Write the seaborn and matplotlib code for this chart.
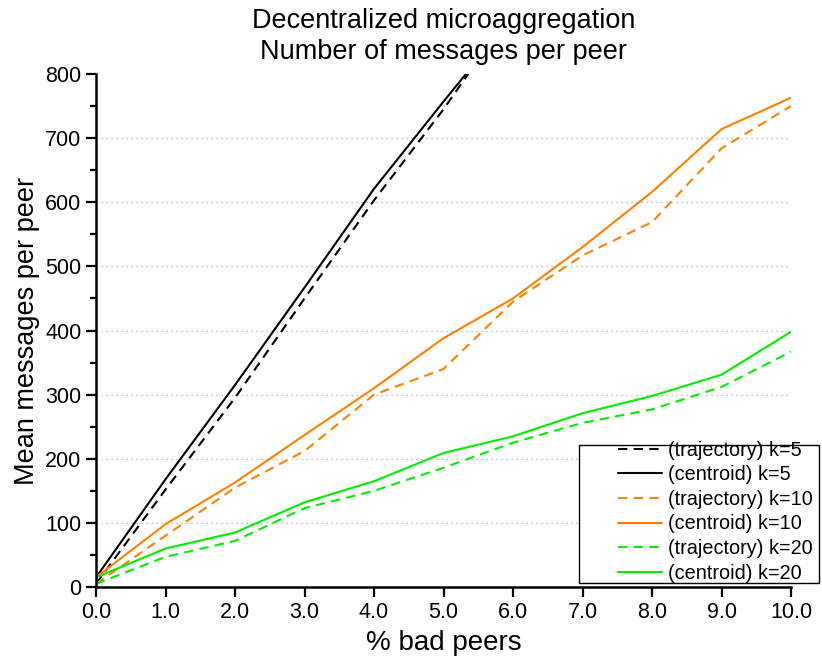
import numpy as np
import pandas as pd
import matplotlib
matplotlib.use("Agg")
import matplotlib.pyplot as plt
from matplotlib.patches import Rectangle
from matplotlib.ticker import MultipleLocator
import seaborn as sns

bad_peers = [0, 1, 2, 3, 4, 5, 6, 7, 8, 9, 10]
traj_k5 = [5, 152, 295, 450, 603, 745, 900, 1050, 1200, 1350, 1500]
cent_k5 = [15, 168, 315, 467, 621, 757, 890, 1040, 1190, 1340, 1490]
traj_k10 = [5, 80, 155, 212, 300, 340, 445, 517, 569, 684, 750]
cent_k10 = [15, 98, 163, 237, 310, 388, 450, 530, 616, 714, 763]
traj_k20 = [5, 47, 72, 123, 150, 186, 225, 256, 277, 312, 367]
cent_k20 = [15, 60, 85, 132, 165, 209, 235, 271, 298, 331, 398]

labels = ["(trajectory) k=5", "(centroid) k=5", "(trajectory) k=10",
          "(centroid) k=10", "(trajectory) k=20", "(centroid) k=20"]
series = [traj_k5, cent_k5, traj_k10, cent_k10, traj_k20, cent_k20]

df = pd.DataFrame({
    "x": bad_peers * len(labels),
    "y": sum(series, []),
    "series": np.repeat(labels, len(bad_peers)),
})

palette = dict(zip(labels, ["black", "black", "#ff8000", "#ff8000", "#00ee00", "#00ee00"]))
dashes = dict(zip(labels, [(4.5, 3), "", (4.5, 3), "", (4.5, 3), ""]))

sns.set_style("white")
plt.rcParams["font.family"] = ["Liberation Sans", "DejaVu Sans"]
plt.rcParams["text.color"] = "black"
plt.rcParams["axes.labelcolor"] = "black"
plt.rcParams["xtick.color"] = "black"
plt.rcParams["ytick.color"] = "black"

fig = plt.figure(figsize=(8.22, 6.57), dpi=100)
ax = fig.add_axes([0.1168, 0.1065, 0.8455, 0.7809])

sns.lineplot(data=df, x="x", y="y", hue="series", style="series",
             hue_order=labels, style_order=labels, palette=palette,
             dashes=dashes, linewidth=1.5, ax=ax)

ax.set_xlim(0, 10)
ax.set_ylim(0, 800)
ax.yaxis.set_major_locator(MultipleLocator(100))
ax.yaxis.set_minor_locator(MultipleLocator(50))
ax.set_xticks(bad_peers)
ax.set_xticklabels([f"{v:.1f}" for v in bad_peers])
ax.tick_params(axis="both", which="major", direction="out", length=7, width=1.6,
               labelsize=15.5, bottom=True, left=True)
ax.tick_params(axis="y", which="minor", direction="out", length=4, width=1.6, left=True)
for s in ["top", "right"]:
    ax.spines[s].set_visible(False)
for s in ["left", "bottom"]:
    ax.spines[s].set_linewidth(1.8)
    ax.spines[s].set_color("black")

for v in range(100, 800, 100):
    ax.axhline(v, color="#aaaaaa", linestyle=(0, (1, 3)), linewidth=0.9, zorder=0)

ax.set_xlabel("% bad peers", fontsize=20, labelpad=5)
ax.set_ylabel("Mean messages per peer", fontsize=19.5, labelpad=4)
ax.set_title("Decentralized microaggregation\nNumber of messages per peer",
             fontsize=19.5, linespacing=1.25, pad=11)

# legend box is wider on the left than the entries need
ax.add_patch(Rectangle((0.7044, 0.1126), 0.292, 0.210, transform=fig.transFigure,
                       facecolor="white", edgecolor="black", linewidth=1.0,
                       clip_on=False, zorder=4))
leg = ax.legend(loc="lower right", bbox_to_anchor=(1.04, -0.003), fontsize=14.3,
                frameon=False, handlelength=2.2, borderpad=0.3,
                labelspacing=0.28, handletextpad=0.3, borderaxespad=0)
leg.set_zorder(10)
for line in leg.get_lines():
    line.set_linewidth(1.5)

fig.savefig("out.png", dpi=100)
